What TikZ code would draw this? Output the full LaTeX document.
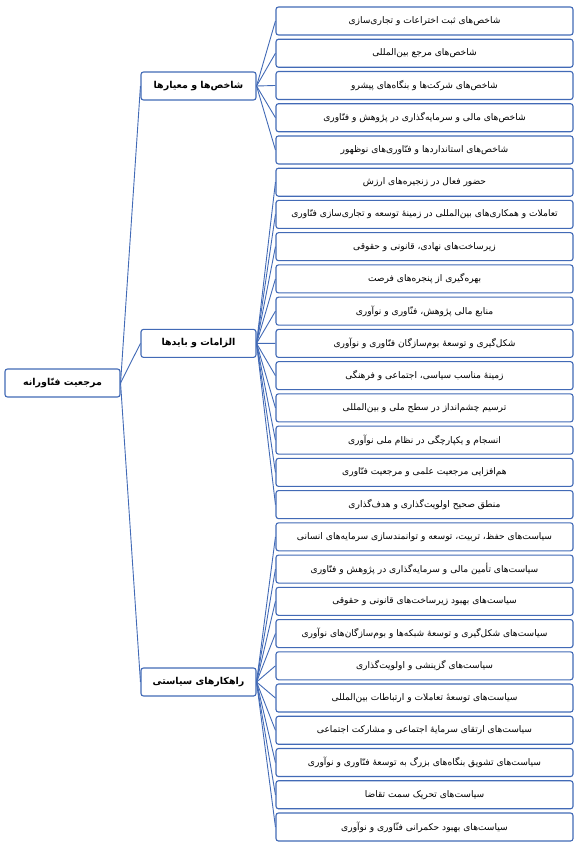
\documentclass[tikz,border=0pt]{standalone}
\usepackage{fontspec}
\newfontfamily\arabicfont[Script=Arabic]{DejaVu Sans}
\TeXXeTstate=1
\definecolor{linkblue}{RGB}{66,106,182}

\begin{document}
\begin{tikzpicture}[x=1pt, y=-1pt]
	\tikzstyle{box}  = [rectangle, rounded corners=2.5pt, draw=linkblue, line width=1.1pt, fill=white, inner sep=0pt]
	\tikzstyle{leaf} = [box, minimum width=297pt, minimum height=28pt, font=\arabicfont\fontsize{9.1}{11}\selectfont]
	\tikzstyle{head} = [box, minimum width=115pt, minimum height=28pt, font=\arabicfont\bfseries\fontsize{9.5}{12}\selectfont]
	\tikzstyle{link} = [draw=linkblue, line width=0.9pt]

	\useasboundingbox (0,0) rectangle (579,851);

	\node[head] (root) at (62.5, 383) {\beginR مرجعیت فنّاورانه\endR};

	\foreach \n/\y/\lbl in {m1/86/شاخص^^^^200cها و معیارها, m2/343.4/الزامات و بایدها, m3/682/راهکارهای سیاستی}
		\node[head] (\n) at (198.5, \y) {\beginR \lbl\endR};

	\foreach \n/\lbl in {0/شاخص^^^^200cهای ثبت اختراعات و تجاری^^^^200cسازی,
			1/شاخص^^^^200cهای مرجع بین^^^^200cالمللی,
			2/شاخص^^^^200cهای شرکت^^^^200cها و بنگاه^^^^200cهای پیشرو,
			3/شاخص^^^^200cهای مالی و سرمایه^^^^200cگذاری در پژوهش و فنّاوری,
			4/شاخص^^^^200cهای استانداردها و فنّاوری^^^^200cهای نوظهور,
			5/حضور فعال در زنجیره^^^^200cهای ارزش,
			6/تعاملات و همکاری^^^^200cهای بین^^^^200cالمللی در زمینهٔ توسعه و تجاری^^^^200cسازی فنّاوری,
			7/زیرساخت^^^^200cهای نهادی، قانونی و حقوقی,
			8/بهره^^^^200cگیری از پنجره^^^^200cهای فرصت,
			9/منابع مالی پژوهش، فنّاوری و نوآوری,
			10/شکل^^^^200cگیری و توسعهٔ بوم^^^^200cسازگان فنّاوری و نوآوری,
			11/زمینهٔ مناسب سیاسی، اجتماعی و فرهنگی,
			12/ترسیم چشم^^^^200cانداز در سطح ملی و بین^^^^200cالمللی,
			13/انسجام و یکپارچگی در نظام ملی نوآوری,
			14/هم^^^^200cافزایی مرجعیت علمی و مرجعیت فنّاوری,
			15/منطق صحیح اولویت^^^^200cگذاری و هدف^^^^200cگذاری,
			16/سیاست^^^^200cهای حفظ، تربیت، توسعه و توانمندسازی سرمایه^^^^200cهای انسانی,
			17/سیاست^^^^200cهای تأمین مالی و سرمایه^^^^200cگذاری در پژوهش و فنّاوری,
			18/سیاست^^^^200cهای بهبود زیرساخت^^^^200cهای قانونی و حقوقی,
			19/سیاست^^^^200cهای شکل^^^^200cگیری و توسعهٔ شبکه^^^^200cها و بوم^^^^200cسازگان^^^^200cهای نوآوری,
			20/سیاست^^^^200cهای گزینشی و اولویت^^^^200cگذاری,
			21/سیاست^^^^200cهای توسعهٔ تعاملات و ارتباطات بین^^^^200cالمللی,
			22/سیاست^^^^200cهای ارتقای سرمایهٔ اجتماعی و مشارکت اجتماعی,
			23/سیاست^^^^200cهای تشویق بنگاه^^^^200cهای بزرگ به توسعهٔ فنّاوری و نوآوری,
			24/سیاست^^^^200cهای تحریک سمت  تقاضا,
			25/سیاست^^^^200cهای بهبود حکمرانی فنّاوری و نوآوری}
		\node[leaf] (l\n) at (424.5, {21+32.24*\n}) {\beginR \lbl\endR};

	% root to the three groups
	\foreach \to in {m1, m2, m3}
		\path[link] (root.east) edge (\to.west);

	% groups to their items
	\foreach \i in {0,...,4}
		\path[link] (m1.east) edge (l\i.west);
	\foreach \i in {5,...,15}
		\path[link] (m2.east) edge (l\i.west);
	\foreach \i in {16,...,25}
		\path[link] (m3.east) edge (l\i.west);
\end{tikzpicture}
\end{document}
